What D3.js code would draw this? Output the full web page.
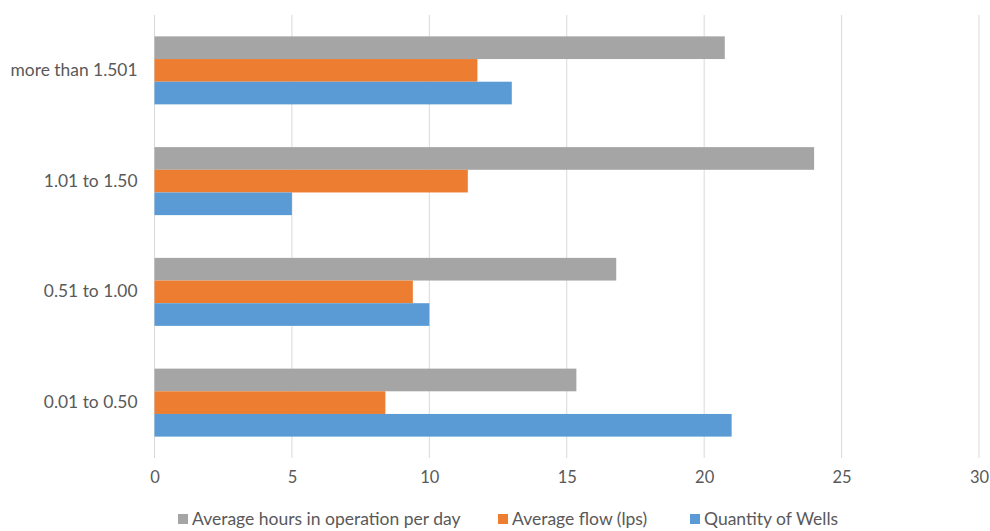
<!DOCTYPE html>
<html><head><meta charset="utf-8">
<script src="https://cdn.jsdelivr.net/npm/d3@7"></script>
<style>body{margin:0;background:#fff}svg{display:block}</style>
</head><body>
<script>
const categories = ["more than 1.501", "1.01 to 1.50", "0.51 to 1.00", "0.01 to 0.50"];
const seriesNames = ["Average hours in operation per day", "Average flow (lps)", "Quantity of Wells"];
const hoursValues = [20.75, 24.0, 16.8, 15.35];
const flowValues = [11.75, 11.4, 9.4, 8.4];
const wellsValues = [13, 5, 10, 21];
const xTicks = [0, 5, 10, 15, 20, 25, 30];
const colors = ["#A5A5A5", "#ED7D31", "#5B9BD5"];

const W = 990, H = 531;
const m = {left: 154.5, right: 11, top: 15, bottom: 73};
const svg = d3.select("body").append("svg").attr("width", W).attr("height", H);
const font = "Lato, 'Open Sans', sans-serif";
const x = d3.scaleLinear().domain([0, 30]).range([m.left, W - m.right]);
const y = d3.scaleBand().domain(categories).range([m.top, H - m.bottom]).paddingInner(0.386).paddingOuter(0.193);
const series = [hoursValues, flowValues, wellsValues];
const ySub = d3.scaleBand().domain(d3.range(3)).range([0, y.bandwidth()]);

// grid
svg.append("g").selectAll("line").data(xTicks).join("line")
  .attr("x1", d => x(d)).attr("x2", d => x(d))
  .attr("y1", m.top).attr("y2", H - m.bottom)
  .attr("stroke", "#D9D9D9").attr("stroke-width", 1);

// bars
series.forEach((vals, si) => {
  svg.append("g").selectAll("rect").data(categories).join("rect")
    .attr("x", x(0))
    .attr("y", (c) => y(c) + ySub(si))
    .attr("width", (c, i) => x(vals[i]) - x(0))
    .attr("height", ySub.bandwidth())
    .attr("fill", colors[si]);
});

// x axis
const xAxis = svg.append("g").attr("transform", `translate(0,${H - m.bottom})`)
  .call(d3.axisBottom(x).tickValues(xTicks).tickSize(0).tickPadding(13));
xAxis.select(".domain").remove();
xAxis.selectAll("text").attr("font-family", font).attr("font-size", 16.5).attr("fill", "#595959");

// y axis
const yAxis = svg.append("g").attr("transform", `translate(${m.left},0)`)
  .call(d3.axisLeft(y).tickSize(0).tickPadding(17));
yAxis.select(".domain").remove();
yAxis.selectAll("text").attr("font-family", font).attr("font-size", 17.4).attr("fill", "#595959");

// legend
const legendX = [178, 498, 690];
const lg = svg.append("g");
seriesNames.forEach((n, i) => {
  const g = lg.append("g").attr("transform", `translate(${legendX[i]},519)`);
  g.append("rect").attr("x", 0).attr("y", -5).attr("width", 10).attr("height", 10).attr("fill", colors[i]);
  g.append("text").attr("x", 14).attr("y", 0).attr("dy", "0.35em")
    .attr("font-family", font).attr("font-size", 17.5).attr("fill", "#595959").text(n);
});
</script>
</body></html>
